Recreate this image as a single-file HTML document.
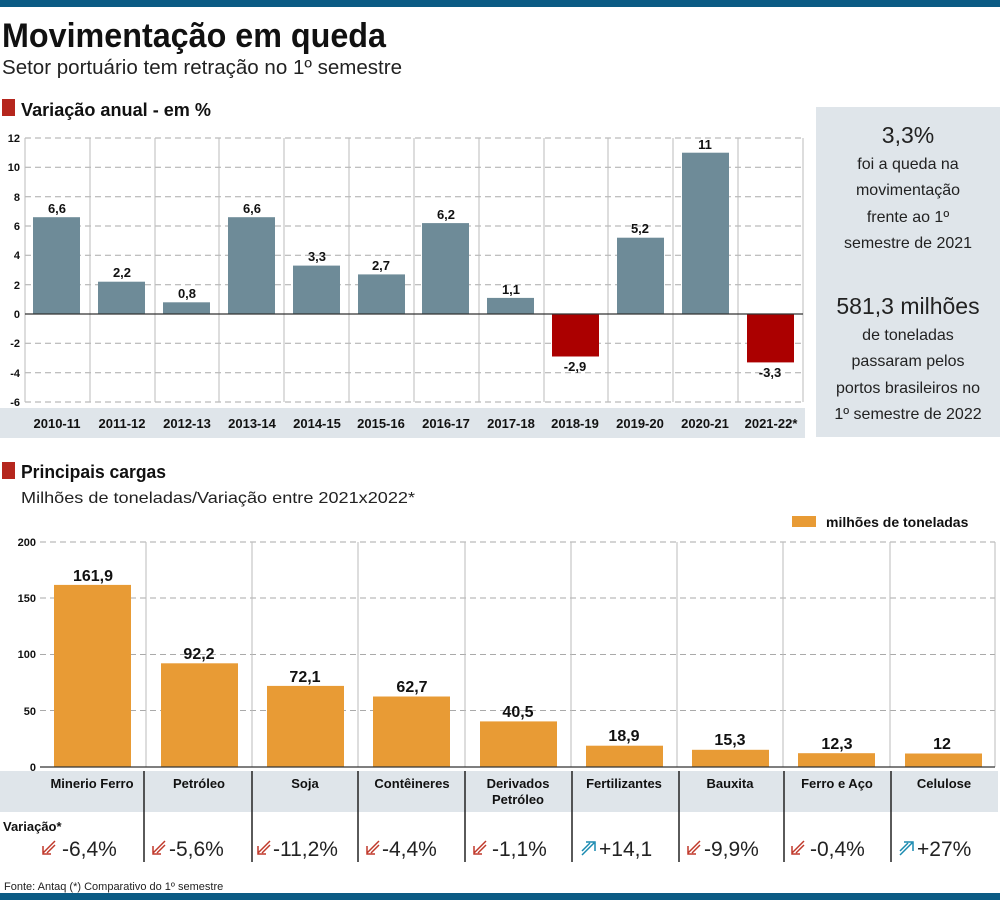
<!DOCTYPE html>
<html><head><meta charset="utf-8"><style>
body{margin:0;background:#fff;}
svg{display:block;font-family:"Liberation Sans",sans-serif;}
.b{font-weight:bold}
</style></head><body>
<svg width="1000" height="900" viewBox="0 0 1000 900">
<rect x="0" y="0" width="1000" height="7" fill="#0b5b84"/>
<rect x="0" y="893" width="1000" height="7" fill="#0b5b84"/>
<text x="2" y="47" font-size="34" font-weight="bold" fill="#111" textLength="384" lengthAdjust="spacingAndGlyphs">Movimentação em queda</text>
<text x="2" y="74" font-size="20" fill="#222" textLength="400" lengthAdjust="spacingAndGlyphs">Setor portuário tem retração no 1º semestre</text>
<rect x="2" y="99" width="13" height="17" fill="#b5261d"/>
<text x="21" y="116" font-size="18" font-weight="bold" fill="#111" textLength="190" lengthAdjust="spacingAndGlyphs">Variação anual - em %</text>

<!-- chart1 grid -->
<g stroke="#aaa" stroke-width="1" stroke-dasharray="6,4">
<line x1="25" x2="803" y1="138" y2="138"/><line x1="25" x2="803" y1="167.3" y2="167.3"/>
<line x1="25" x2="803" y1="196.7" y2="196.7"/><line x1="25" x2="803" y1="226" y2="226"/>
<line x1="25" x2="803" y1="255.3" y2="255.3"/><line x1="25" x2="803" y1="284.7" y2="284.7"/>
<line x1="25" x2="803" y1="343.3" y2="343.3"/><line x1="25" x2="803" y1="372.7" y2="372.7"/>
<line x1="25" x2="803" y1="402" y2="402"/>
</g>
<g stroke="#bbb">
<line x1="25" x2="25" y1="138" y2="402"/><line x1="90" x2="90" y1="138" y2="402"/><line x1="155" x2="155" y1="138" y2="402"/><line x1="219" x2="219" y1="138" y2="402"/><line x1="284" x2="284" y1="138" y2="402"/><line x1="349" x2="349" y1="138" y2="402"/><line x1="414" x2="414" y1="138" y2="402"/><line x1="479" x2="479" y1="138" y2="402"/><line x1="544" x2="544" y1="138" y2="402"/><line x1="608" x2="608" y1="138" y2="402"/><line x1="673" x2="673" y1="138" y2="402"/><line x1="738" x2="738" y1="138" y2="402"/><line x1="803" x2="803" y1="138" y2="402"/>
</g>
<g font-size="11" font-weight="bold" fill="#111" text-anchor="end">
<text x="20" y="142">12</text><text x="20" y="171">10</text><text x="20" y="201">8</text><text x="20" y="230">6</text><text x="20" y="259">4</text><text x="20" y="289">2</text><text x="20" y="318">0</text><text x="20" y="347">-2</text><text x="20" y="377">-4</text><text x="20" y="406">-6</text>
</g>
<g fill="#6e8b98">
<rect x="33" y="217.2" width="47" height="96.8"/>
<rect x="98" y="281.7" width="47" height="32.3"/>
<rect x="163" y="302.3" width="47" height="11.7"/>
<rect x="228" y="217.2" width="47" height="96.8"/>
<rect x="293" y="265.6" width="47" height="48.4"/>
<rect x="358" y="274.4" width="47" height="39.6"/>
<rect x="422" y="223.1" width="47" height="90.9"/>
<rect x="487" y="297.9" width="47" height="16.1"/>
<rect x="617" y="237.7" width="47" height="76.3"/>
<rect x="682" y="152.7" width="47" height="161.3"/>
</g>
<g fill="#ab0000"><rect x="552" y="314" width="47" height="42.5"/><rect x="747" y="314" width="47" height="48.4"/></g>
<line x1="25" x2="803" y1="314" y2="314" stroke="#333" stroke-width="1.2"/>
<g font-size="13" font-weight="bold" fill="#111" text-anchor="middle">
<text x="57" y="213">6,6</text><text x="122" y="277">2,2</text><text x="187" y="298">0,8</text><text x="252" y="213">6,6</text><text x="317" y="261">3,3</text><text x="381" y="270">2,7</text><text x="446" y="219">6,2</text><text x="511" y="294">1,1</text><text x="575" y="371">-2,9</text><text x="640" y="233">5,2</text><text x="705" y="149">11</text><text x="770" y="377">-3,3</text>
</g>
<rect x="0" y="408" width="805" height="30" fill="#dfe5ea"/>
<g font-size="13" font-weight="bold" fill="#111" text-anchor="middle">
<text x="57" y="428">2010-11</text><text x="122" y="428">2011-12</text><text x="187" y="428">2012-13</text><text x="252" y="428">2013-14</text><text x="317" y="428">2014-15</text><text x="381" y="428">2015-16</text><text x="446" y="428">2016-17</text><text x="511" y="428">2017-18</text><text x="575" y="428">2018-19</text><text x="640" y="428">2019-20</text><text x="705" y="428">2020-21</text><text x="771" y="428">2021-22*</text>
</g>
<!-- right panel -->
<rect x="816" y="107" width="184" height="330" fill="#dfe5ea"/>
<g text-anchor="middle" fill="#222" font-size="16">
<text x="908" y="143" font-size="23">3,3%</text>
<text x="908" y="169">foi a queda na</text>
<text x="908" y="195">movimentação</text>
<text x="908" y="222">frente ao 1º</text>
<text x="908" y="248">semestre de 2021</text>
<text x="908" y="314" font-size="23">581,3 milhões</text>
<text x="908" y="340">de toneladas</text>
<text x="908" y="366">passaram pelos</text>
<text x="908" y="393">portos brasileiros no</text>
<text x="908" y="419">1º semestre de 2022</text>
</g>

<rect x="2" y="462" width="13" height="17" fill="#b5261d"/>
<text x="21" y="478" font-size="18" font-weight="bold" fill="#111" textLength="145" lengthAdjust="spacingAndGlyphs">Principais cargas</text>
<text x="21" y="503" font-size="16" fill="#222" textLength="394" lengthAdjust="spacingAndGlyphs">Milhões de toneladas/Variação entre 2021x2022*</text>
<rect x="792" y="516" width="24" height="11" fill="#e89b35"/>
<text x="826" y="527" font-size="14" font-weight="bold" fill="#111">milhões de toneladas</text>

<g stroke="#aaa" stroke-dasharray="6,4">
<line x1="40" x2="995" y1="542" y2="542"/><line x1="40" x2="995" y1="598" y2="598"/><line x1="40" x2="995" y1="654.5" y2="654.5"/><line x1="40" x2="995" y1="710.5" y2="710.5"/>
</g>
<g stroke="#bbb">
<line x1="146" x2="146" y1="542" y2="767"/><line x1="252" x2="252" y1="542" y2="767"/><line x1="358" x2="358" y1="542" y2="767"/><line x1="465" x2="465" y1="542" y2="767"/><line x1="571" x2="571" y1="542" y2="767"/><line x1="677" x2="677" y1="542" y2="767"/><line x1="783" x2="783" y1="542" y2="767"/><line x1="890" x2="890" y1="542" y2="767"/><line x1="995" x2="995" y1="542" y2="767"/>
</g>
<g font-size="11" font-weight="bold" fill="#111" text-anchor="end">
<text x="36" y="546">200</text><text x="36" y="602">150</text><text x="36" y="658">100</text><text x="36" y="715">50</text><text x="36" y="771">0</text>
</g>
<g fill="#e89b35">
<rect x="54" y="584.9" width="77" height="182.1"/>
<rect x="161" y="663.3" width="77" height="103.7"/>
<rect x="267" y="685.9" width="77" height="81.1"/>
<rect x="373" y="696.5" width="77" height="70.5"/>
<rect x="480" y="721.4" width="77" height="45.6"/>
<rect x="586" y="745.7" width="77" height="21.3"/>
<rect x="692" y="749.8" width="77" height="17.2"/>
<rect x="798" y="753.2" width="77" height="13.8"/>
<rect x="905" y="753.5" width="77" height="13.5"/>
</g>
<line x1="40" x2="995" y1="767" y2="767" stroke="#333" stroke-width="1.2"/>
<g font-size="16" font-weight="bold" fill="#111" text-anchor="middle">
<text x="93" y="581">161,9</text><text x="199" y="659">92,2</text><text x="305" y="682">72,1</text><text x="412" y="692">62,7</text><text x="518" y="717">40,5</text><text x="624" y="741">18,9</text><text x="730" y="745">15,3</text><text x="837" y="749">12,3</text><text x="942" y="749">12</text>
</g>
<rect x="0" y="771" width="998" height="41" fill="#dfe5ea"/>
<g stroke="#222" stroke-width="1.5">
<line x1="144" x2="144" y1="771" y2="862"/><line x1="252" x2="252" y1="771" y2="862"/><line x1="358" x2="358" y1="771" y2="862"/><line x1="465" x2="465" y1="771" y2="862"/><line x1="572" x2="572" y1="771" y2="862"/><line x1="679" x2="679" y1="771" y2="862"/><line x1="784" x2="784" y1="771" y2="862"/><line x1="891" x2="891" y1="771" y2="862"/>
</g>
<g font-size="13" font-weight="bold" fill="#111" text-anchor="middle">
<text x="92" y="788">Minerio Ferro</text><text x="199" y="788">Petróleo</text><text x="305" y="788">Soja</text><text x="412" y="788">Contêineres</text><text x="518" y="788">Derivados</text><text x="518" y="804">Petróleo</text><text x="624" y="788">Fertilizantes</text><text x="730" y="788">Bauxita</text><text x="837" y="788">Ferro e Aço</text><text x="944" y="788">Celulose</text>
</g>
<text x="3" y="831" font-size="13" font-weight="bold" fill="#111">Variação*</text>
<defs>
<g id="dn" fill="none" stroke="#c0392b" stroke-width="1.5"><path d="M14,1 L2,13 M2,6 L2,14 L10,14"/><path d="M14,5 L6,13" /></g>
<g id="up" fill="none" stroke="#1a8ab0" stroke-width="1.5"><path d="M2,15 L14,3 M6,2 L15,2 L15,11"/><path d="M2,11 L10,3"/></g>
</defs>
<g font-size="21" fill="#222">
<use href="#dn" x="41" y="840"/><text x="62" y="856">-6,4%</text>
<use href="#dn" x="151" y="840"/><text x="169" y="856">-5,6%</text>
<use href="#dn" x="256" y="840"/><text x="273" y="856">-11,2%</text>
<use href="#dn" x="365" y="840"/><text x="382" y="856">-4,4%</text>
<use href="#dn" x="472" y="840"/><text x="492" y="856">-1,1%</text>
<use href="#up" x="580" y="840"/><text x="599" y="856">+14,1</text>
<use href="#dn" x="686" y="840"/><text x="704" y="856">-9,9%</text>
<use href="#dn" x="790" y="840"/><text x="810" y="856">-0,4%</text>
<use href="#up" x="898" y="840"/><text x="917" y="856">+27%</text>
</g>
<text x="4" y="890" font-size="11" fill="#222">Fonte: Antaq (*) Comparativo do 1º semestre</text>
</svg>
</body></html>
